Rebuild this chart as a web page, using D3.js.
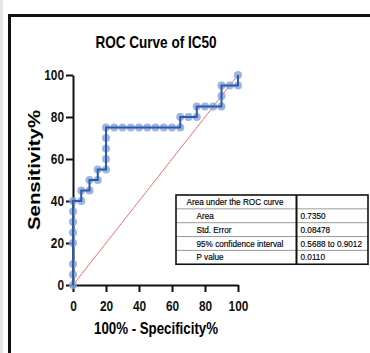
<!DOCTYPE html>
<html>
<head>
<meta charset="utf-8">
<script src="https://cdn.jsdelivr.net/npm/d3@7"></script>
<style>
  body { margin: 0; background: #fff; }
  svg { display: block; }
</style>
</head>
<body>
<div id="chart"></div>
<script>
// ROC points: 100% - specificity% and sensitivity%
const fpr = [0, 0, 0, 0, 0, 0, 0, 0, 5, 5, 10, 10, 15, 15, 20, 20, 20, 20, 20, 25, 30, 35, 40, 45, 50, 55, 60, 65, 65, 70, 75, 75, 80, 85, 90, 90, 90, 95, 100, 100];
const tpr = [0, 5, 10, 20, 25, 30, 35, 40, 40, 45, 45, 50, 50, 55, 55, 60, 65, 70, 75, 75, 75, 75, 75, 75, 75, 75, 75, 75, 80, 80, 80, 85, 85, 85, 85, 90, 95, 95, 95, 100];
const tickValues = [0, 20, 40, 60, 80, 100];

const tableLabels = ['Area under the ROC curve', 'Area', 'Std. Error', '95% confidence interval', 'P value'];
const tableValues = ['', '0.7350', '0.08478', '0.5688 to 0.9012', '0.0110'];

const width = 370, height = 353;
const font = '"Liberation Sans Narrow", "Arial Narrow", "Liberation Sans", Arial, sans-serif';
const tableFont = '"Liberation Sans", Arial, sans-serif';

const svg = d3.select('#chart').append('svg')
  .attr('width', width)
  .attr('height', height);

// page edge and frame
svg.append('rect').attr('x', 0).attr('y', 0).attr('width', 3).attr('height', height).attr('fill', '#e6e6e6');
svg.append('path')
  .attr('d', `M9.5,${height + 5}V15.5H${width + 5}`)
  .attr('fill', 'none')
  .attr('stroke', '#111')
  .attr('stroke-width', 3);

const x = d3.scaleLinear().domain([0, 100]).range([73, 238]);
const y = d3.scaleLinear().domain([0, 100]).range([285, 75]);

// fit text to the measured width in the picture
function fit(sel, w) {
  sel.attr('textLength', w).attr('lengthAdjust', 'spacingAndGlyphs');
}

// title
svg.append('text')
  .attr('x', 156).attr('y', 48)
  .attr('text-anchor', 'middle')
  .style('font-family', font).style('font-weight', 'bold').style('font-size', '17px')
  .text('ROC Curve of IC50')
  .call(fit, 121);

// axes
const yAxis = svg.append('g')
  .attr('transform', `translate(${x(0)},0)`)
  .call(d3.axisLeft(y).tickValues(tickValues).tickSize(7).tickSizeOuter(0).tickPadding(2));
const xAxis = svg.append('g')
  .attr('transform', `translate(0,${y(0)})`)
  .call(d3.axisBottom(x).tickValues(tickValues).tickSize(7).tickSizeOuter(0).tickPadding(8));

[yAxis, xAxis].forEach(g => {
  g.select('.domain').attr('stroke', '#111').attr('stroke-width', 2);
  g.selectAll('.tick line').attr('stroke', '#111').attr('stroke-width', 2);
  g.selectAll('.tick text')
    .attr('fill', '#111')
    .style('font-family', font).style('font-weight', 'bold').style('font-size', '15px')
    .each(function (d) {
      d3.select(this).call(fit, String(d).length * 6.6);
    });
});

// axis titles
svg.append('text')
  .attr('x', 156).attr('y', 334)
  .attr('text-anchor', 'middle')
  .style('font-family', font).style('font-weight', 'bold').style('font-size', '16px')
  .text('100% - Specificity%')
  .call(fit, 124);

svg.append('text')
  .attr('transform', `translate(40,170) rotate(-90)`)
  .attr('text-anchor', 'middle')
  .style('font-family', font).style('font-weight', 'bold').style('font-size', '17px')
  .text('Sensitivity%')
  .call(fit, 120);

// reference diagonal
svg.append('line')
  .attr('x1', x(0)).attr('y1', y(0))
  .attr('x2', x(100)).attr('y2', y(100))
  .attr('stroke', '#ff4a4a')
  .attr('stroke-width', 0.8);

const points = fpr.map((v, i) => ({ fx: v, tx: tpr[i] }));

svg.append('g').selectAll('circle')
  .data(points)
  .enter().append('circle')
  .attr('cx', d => x(d.fx))
  .attr('cy', d => y(d.tx))
  .attr('r', 4)
  .attr('fill', '#84a2d8')
  .attr('fill-opacity', 0.8);

const line = d3.line().x(d => x(d.fx)).y(d => y(d.tx));
svg.append('path')
  .datum(points)
  .attr('d', line)
  .attr('fill', 'none')
  .attr('stroke', '#2d5aab')
  .attr('stroke-width', 2);

// results table
const tX = 176, tY = 195, rowH = 13.85, colX = 296.5, tRight = 368;
const table = svg.append('g');
const rows = table.selectAll('g.row')
  .data(tableLabels)
  .enter().append('g')
  .attr('class', 'row')
  .attr('transform', (d, i) => `translate(0,${tY + i * rowH})`);

rows.filter((d, i) => i > 0).append('line')
  .attr('x1', tX).attr('x2', tRight)
  .attr('y1', 0).attr('y2', 0)
  .attr('stroke', '#9a9a9a').attr('stroke-width', 1);

rows.append('text')
  .attr('x', (d, i) => i === 0 ? 186.5 : 196.5)
  .attr('y', 10)
  .style('font-family', tableFont)
  .style('font-size', '8.2px')
  .attr('fill', '#000')
  .attr('stroke', '#000').attr('stroke-width', 0.15)
  .text(d => d);

rows.append('text')
  .attr('x', 300.5)
  .attr('y', 10)
  .style('font-family', tableFont)
  .style('font-size', '8.2px')
  .attr('fill', '#000')
  .attr('stroke', '#000').attr('stroke-width', 0.15)
  .text((d, i) => tableValues[i]);

table.append('line')
  .attr('x1', colX).attr('x2', colX)
  .attr('y1', tY).attr('y2', tY + rowH * tableLabels.length)
  .attr('stroke', '#111').attr('stroke-width', 2);

table.append('rect')
  .attr('x', tX).attr('y', tY)
  .attr('width', tRight - tX).attr('height', rowH * tableLabels.length)
  .attr('fill', 'none')
  .attr('stroke', '#111').attr('stroke-width', 1.6);
</script>
</body>
</html>
